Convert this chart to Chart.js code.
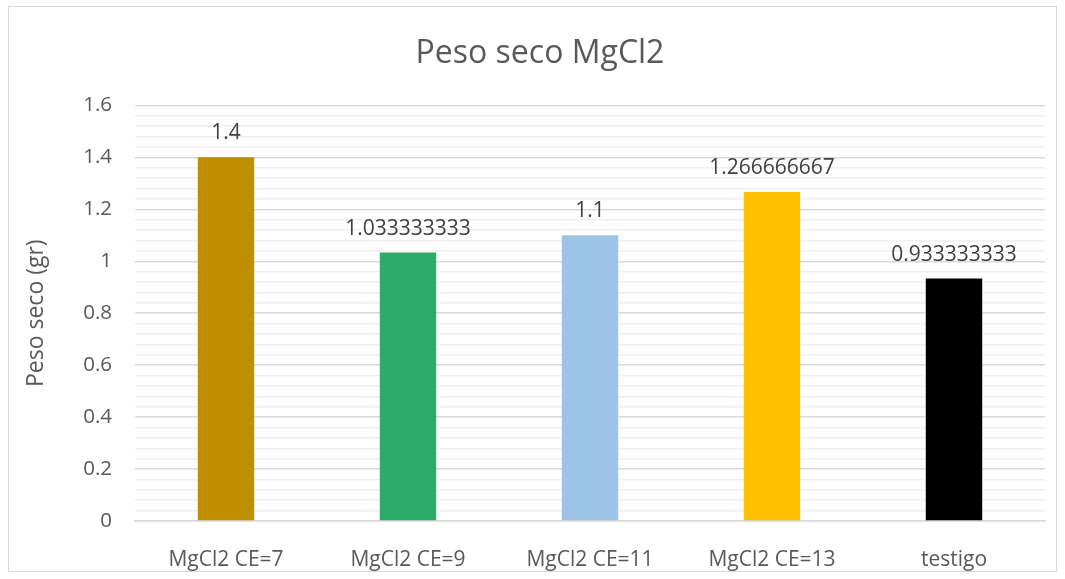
<!DOCTYPE html>
<html><head><meta charset="utf-8">
<script src="https://cdn.jsdelivr.net/npm/chart.js@4.4.1/dist/chart.umd.min.js"></script>
<style>
html,body{margin:0;padding:0;background:#fff;}
#wrap{position:absolute;left:8px;top:6px;width:1049px;height:566px;border:1px solid #D9D9D9;box-sizing:border-box;}
</style></head><body>
<div id="wrap"><canvas id="c"></canvas></div>
<script>
const categories = ["MgCl2 CE=7","MgCl2 CE=9","MgCl2 CE=11","MgCl2 CE=13","testigo"];
const values = [1.4, 1.033333333, 1.1, 1.266666667, 0.933333333];
const labelsText = ["1.4","1.033333333","1.1","1.266666667","0.933333333"];
const barColors = ["#BF8F00","#2EAB69","#9DC3E6","#FFC000","#000000"];
const yMin = 0, yMax = 1.6, yMajor = 0.2, yMinor = 0.04;
const titleText = "Peso seco MgCl2";

const FONT = "'Open Sans', 'Liberation Sans', sans-serif";
const isMajor = (v)=>Math.abs(v/yMajor-Math.round(v/yMajor))<1e-6;

const dataLabels = {
  id:'dataLabels',
  afterDatasetsDraw(chart){
    const ctx = chart.ctx;
    const meta = chart.getDatasetMeta(0);
    ctx.save();
    ctx.font = "21px " + FONT;
    ctx.fillStyle = "#404040";
    ctx.textAlign = "center";
    ctx.textBaseline = "alphabetic";
    meta.data.forEach((bar,i)=>{
      ctx.fillText(labelsText[i], bar.x, bar.y - 18);
    });
    ctx.restore();
  }
};

const titleDraw = {
  id:'titleDraw',
  afterDraw(chart){
    const ctx = chart.ctx;
    ctx.save();
    ctx.font = "32px " + FONT;
    ctx.fillStyle = "#595959";
    ctx.textAlign = "center";
    ctx.textBaseline = "middle";
    ctx.fillText(titleText, 531, 47);
    ctx.restore();
  }
};

new Chart(document.getElementById('c'), {
  type:'bar',
  data:{labels:categories, datasets:[{data:values, backgroundColor:barColors, barPercentage:0.31, categoryPercentage:1.0}]},
  options:{
    responsive:true, maintainAspectRatio:false, animation:false,
    layout:{padding:{left:0,right:11,top:0,bottom:0}},
    plugins:{
      legend:{display:false}, tooltip:{enabled:false},
      title:{display:true, text:titleText, color:"rgba(0,0,0,0)", font:{family:FONT, size:32, weight:'normal'}, padding:{top:26,bottom:34}}
    },
    scales:{
      x:{
        afterFit(axis){ axis.height = 50; },
        grid:{display:false}, border:{display:true,color:"#D9D9D9",width:1.5},
        ticks:{color:"#595959", font:{family:FONT,size:21}, padding:18}
      },
      y:{
        min:yMin, max:yMax,
        afterFit(axis){ axis.width = 126; },
        afterBuildTicks(axis){
          const t=[]; for(let k=0;k<=Math.round((yMax-yMin)/yMinor);k++){ t.push({value: +(yMin+k*yMinor).toFixed(4)}); }
          axis.ticks=t;
        },
        grid:{
          color:(c)=>{ const v=c.tick?c.tick.value:0; return isMajor(v)?"#D9D9D9":"#F0F0F0"; },
          lineWidth:1.5,
          drawTicks:false
        },
        border:{display:false},
        ticks:{
          autoSkip:false, padding:23, color:"#595959", font:{family:FONT,size:20.5},
          callback:(v)=> isMajor(v)?String(+v.toFixed(1)):""
        },
        title:{display:true, text:"Peso seco (gr)", color:"#595959", font:{family:FONT,size:23}, padding:{top:14,bottom:0}}
      }
    }
  },
  plugins:[dataLabels, titleDraw]
});
</script>
</body></html>
